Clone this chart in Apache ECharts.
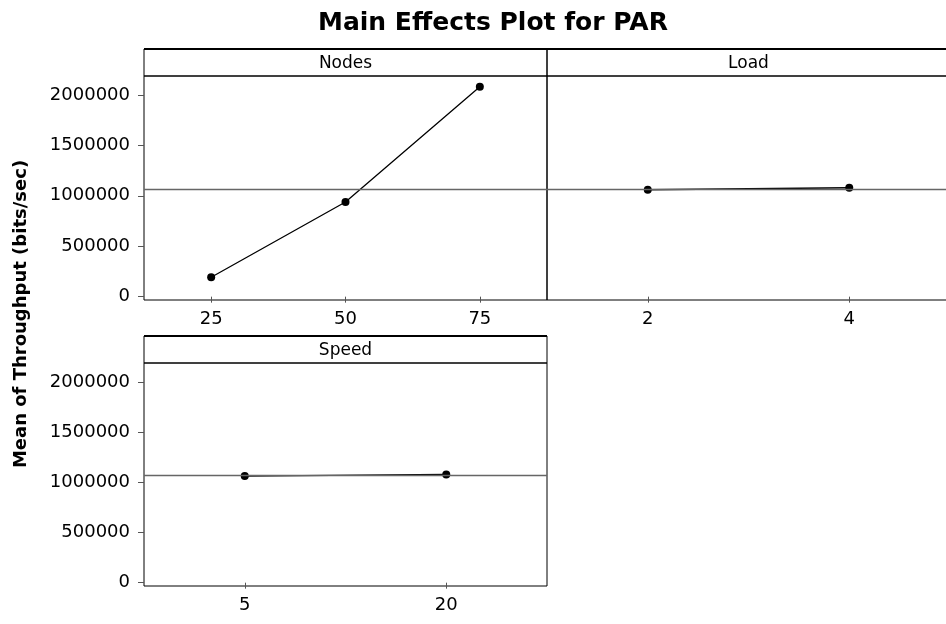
<!DOCTYPE html>
<html>
<head>
<meta charset="utf-8">
<script src="https://cdn.jsdelivr.net/npm/echarts@6/dist/echarts.min.js"></script>
<style>
html,body{margin:0;padding:0;background:#fff;}
#chart{width:946px;height:624px;}
</style>
</head>
<body>
<div id="chart"></div>
<script>
// ---- data ----
const nodesCats = ['25', '50', '75'];
const nodesVals = [192000, 939000, 2082000];
const loadCats = ['2', '4'];
const loadVals = [1060000, 1080000];
const speedCats = ['5', '20'];
const speedVals = [1062000, 1078000];
const grandMean = 1070000;
const yTicks = [0, 500000, 1000000, 1500000, 2000000];
const panelTitles = ['Nodes', 'Load', 'Speed'];
const chartTitle = 'Main Effects Plot for PAR';
const yTitle = 'Mean of Throughput (bits/sec)';

const FONT = 'DejaVu Sans';
const chart = echarts.init(document.getElementById('chart'), null, {renderer: 'canvas'});

const panels = [
  {left: 144, top: 76, width: 403, height: 224, cats: nodesCats, vals: nodesVals, showY: true, head: 49},
  {left: 547, top: 76, width: 403, height: 224, cats: loadCats, vals: loadVals, showY: false, head: 49},
  {left: 144, top: 363, width: 403, height: 223, cats: speedCats, vals: speedVals, showY: true, head: 336}
];

const grids = panels.map(p => ({
  left: p.left, top: p.top, width: p.width, height: p.height,
  show: true, borderColor: '#000', borderWidth: 1, backgroundColor: 'transparent',
  containLabel: false, outerBoundsMode: 'none'
}));

const xAxes = panels.map((p, i) => ({
  type: 'category', gridIndex: i, data: p.cats, boundaryGap: true,
  axisLine: {show: false},
  axisTick: {show: true, alignWithLabel: true, length: 6, lineStyle: {color: '#555', width: 1}},
  axisLabel: {show: true, fontFamily: FONT, fontSize: 18, color: '#000', margin: 10},
  splitLine: {show: false}
}));

const yAxes = panels.map((p, i) => ({
  type: 'value', gridIndex: i, min: -33000, max: 2188000,
  axisLine: {show: false},
  splitLine: {show: false},
  axisTick: {show: p.showY, customValues: yTicks, length: 6, lineStyle: {color: '#555', width: 1}},
  axisLabel: {show: p.showY, customValues: yTicks, formatter: v => String(v),
    fontFamily: FONT, fontSize: 18, color: '#000', margin: 14}
}));

const series = panels.map((p, i) => ({
  type: 'line', xAxisIndex: i, yAxisIndex: i, data: p.vals,
  symbol: 'circle', symbolSize: 8, itemStyle: {color: '#000'},
  lineStyle: {color: '#000', width: 1.3}, animation: false,
  markLine: {
    silent: true, symbol: 'none', animation: false,
    label: {show: false},
    lineStyle: {color: '#666', type: 'solid', width: 1.3},
    data: [{yAxis: grandMean}]
  }
}));

const graphic = [];
panels.forEach((p, i) => {
  graphic.push({
    type: 'rect', shape: {x: p.left, y: p.head, width: p.width, height: p.top - p.head},
    style: {fill: 'none', stroke: '#000', lineWidth: 1}, silent: true
  });
  graphic.push({
    type: 'line', shape: {x1: p.left, y1: p.head, x2: p.left + p.width, y2: p.head},
    style: {stroke: '#000', lineWidth: 2}, silent: true
  });
  graphic.push({
    type: 'text', x: p.left + p.width / 2, y: (p.head + p.top) / 2 + 1,
    style: {text: panelTitles[i], font: '17px "' + FONT + '"', fill: '#000', align: 'center', verticalAlign: 'middle'},
    silent: true
  });
});
graphic.push({
  type: 'text', x: 21, y: 314, rotation: Math.PI / 2,
  style: {text: yTitle, font: 'bold 18px "' + FONT + '"', fill: '#000', align: 'center', verticalAlign: 'middle'},
  silent: true
});

chart.setOption({
  animation: false,
  backgroundColor: '#fff',
  title: {
    text: chartTitle, left: 488, top: 6, textAlign: 'center',
    textStyle: {fontFamily: FONT, fontWeight: 'bold', fontSize: 25, color: '#000'}
  },
  grid: grids,
  xAxis: xAxes,
  yAxis: yAxes,
  series: series,
  graphic: graphic
});
</script>
</body>
</html>
